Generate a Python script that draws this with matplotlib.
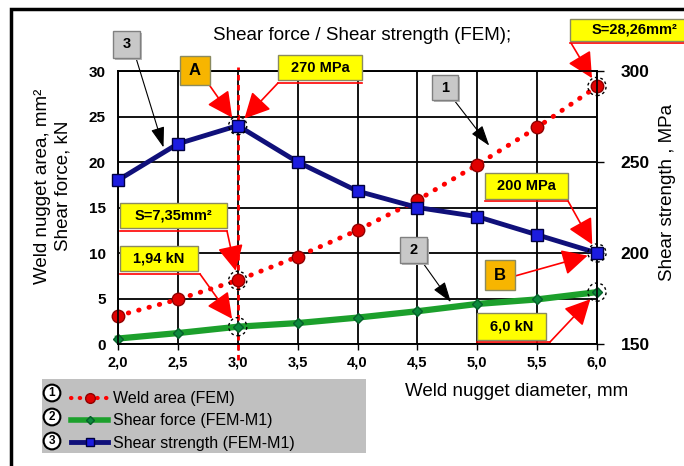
import numpy as np
import matplotlib
matplotlib.use('Agg')
import matplotlib.pyplot as plt
from matplotlib.patches import Rectangle
from matplotlib.lines import Line2D

plt.rcParams['font.family'] = ['Liberation Sans', 'DejaVu Sans']

# data
diameter = [2.0, 2.5, 3.0, 3.5, 4.0, 4.5, 5.0, 5.5, 6.0]
x_labels = ['2,0', '2,5', '3,0', '3,5', '4,0', '4,5', '5,0', '5,5', '6,0']
weld_area = [3.1, 4.9, 7.0, 9.6, 12.5, 15.8, 19.7, 23.8, 28.3]      # mm2
shear_force = [0.6, 1.2, 1.9, 2.3, 2.9, 3.6, 4.4, 4.9, 5.7]         # kN
shear_strength = [240, 260, 270, 250, 234, 225, 220, 210, 200]       # MPa
left_ticks = [0, 5, 10, 15, 20, 25, 30]
right_ticks = [150, 200, 250, 300]

W, H = 684, 466


def fx(px):
    return px / W


def fy(py):
    return 1 - py / H


fig = plt.figure(figsize=(W / 100, H / 100), dpi=100)
ax = fig.add_axes([fx(118), fy(344), (597 - 118) / W, (344 - 71) / H])
ax2 = ax.twinx()

ax.set_xlim(2.0, 6.0)
ax.set_ylim(0, 30)
ax2.set_ylim(150, 300)
ax.set_xticks(diameter)
ax.set_xticklabels(x_labels)
ax.set_yticks(left_ticks)
ax2.set_yticks(right_ticks)
ax.set_axisbelow(True)
ax.grid(True, color='black', lw=1.3)
ax.tick_params(axis='x', direction='out', length=4, width=1, pad=4, labelsize=10.5)
ax.tick_params(axis='y', length=0, pad=9, labelsize=11)
ax2.tick_params(axis='y', direction='out', length=5, width=1, pad=12, labelsize=12.5)
for lab in ax.get_xticklabels() + ax.get_yticklabels() + ax2.get_yticklabels():
    lab.set_fontweight('bold')
for a in (ax, ax2):
    for s in a.spines.values():
        s.set_linewidth(1.2)

# vertical marker line at d = 3.0
ax.axvline(diameter[2], ymin=-0.06, ymax=1.015, color='red', lw=2,
           ls=(0, (2, 1.6)), clip_on=False, zorder=1.5)

l_area, = ax.plot(diameter, weld_area, color='red', lw=3.5, ls=(0, (0.1, 2.1)),
                  dash_capstyle='round', marker='o', ms=9, mfc='#e00000',
                  mec='#900000', mew=1, clip_on=False, zorder=3)
l_force, = ax.plot(diameter, shear_force, color='#1ca02c', lw=4.5, marker='D',
                   ms=5, mfc='#0c8a3c', mec='#06602a', clip_on=False, zorder=3)
l_str, = ax2.plot(diameter, shear_strength, color='#10107a', lw=3.5, marker='s',
                  ms=9, mfc='#1c1ce0', mec='#000040', clip_on=False, zorder=3)

# dashed circles around highlighted points
ax.scatter([diameter[2], diameter[2], diameter[8], diameter[8]],
           [weld_area[2], shear_force[2], weld_area[8], shear_force[8]],
           s=170, facecolors='none', edgecolors='black', linewidths=1,
           linestyles=(0, (2, 2)), clip_on=False, zorder=6)
ax2.scatter([diameter[2], diameter[8]], [shear_strength[2], shear_strength[8]],
            s=170, facecolors='none', edgecolors='black', linewidths=1,
            linestyles=(0, (2, 2)), clip_on=False, zorder=6)


def box(text, x0, y0, x1, y1, fc, ec='#8a8a60', shadow=False, fs=10.5):
    if shadow:
        fig.patches.append(Rectangle((fx(x0 + 2), fy(y1 + 2)), (x1 - x0) / W,
                                     (y1 - y0) / H, transform=fig.transFigure,
                                     fc='#b8b8b8', ec='none', zorder=4))
    fig.patches.append(Rectangle((fx(x0), fy(y1)), (x1 - x0) / W, (y1 - y0) / H,
                                 transform=fig.transFigure, fc=fc, ec=ec,
                                 lw=1, zorder=5))
    fig.text(fx((x0 + x1) / 2), fy((y0 + y1) / 2), text, ha='center',
             va='center', fontsize=fs, fontweight='bold', zorder=6)


def underline(x0, x1, y):
    fig.add_artist(Line2D([fx(x0), fx(x1)], [fy(y), fy(y)], color='red', lw=1.2,
                          zorder=5))


def red_arrow(axis, pt, px, py):
    axis.annotate('', xy=pt, xycoords='data', xytext=(px, H - py),
                  textcoords='figure pixels', annotation_clip=False,
                  arrowprops=dict(arrowstyle='-|>,head_length=0.75,head_width=0.38',
                                  mutation_scale=21, color='red', lw=1.2,
                                  shrinkA=0, shrinkB=7), zorder=7)


def black_arrow(pt, px, py):
    ax.annotate('', xy=pt, xycoords='data', xytext=(px, H - py),
                textcoords='figure pixels', annotation_clip=False,
                arrowprops=dict(arrowstyle='-|>,head_length=0.9,head_width=0.3',
                                mutation_scale=14, color='black', lw=0.8,
                                shrinkA=0, shrinkB=0), zorder=7)


yellow = '#ffff00'
orange = '#f7b500'
grey = '#c8c8c8'

# callouts
box('270 MPa', 278, 55, 362, 80, yellow)
underline(278, 362, 83)
red_arrow(ax2, (diameter[2], shear_strength[2]), 278, 83)

box('A', 180, 56, 210, 85, orange, fs=12)
red_arrow(ax2, (diameter[2], shear_strength[2]), 210, 86)

box('S=28,26mm²', 570, 19, 700, 41, yellow)
underline(570, 684, 43)
red_arrow(ax, (diameter[8], weld_area[8]), 571, 43)

box('200 MPa', 485, 173, 568, 199, yellow)
underline(485, 568, 201)
red_arrow(ax2, (diameter[8], shear_strength[8]), 568, 201)

box('B', 485, 260, 515, 290, orange, fs=12)
red_arrow(ax2, (diameter[8], shear_strength[8]), 515, 276)

box('6,0 kN', 477, 313, 546, 340, yellow)
underline(477, 550, 342)
red_arrow(ax, (diameter[8], shear_force[8]), 550, 342)

box('S=7,35mm²', 120, 203, 227, 228, yellow)
underline(120, 227, 231)
red_arrow(ax, (diameter[2], weld_area[2]), 227, 231)

box('1,94 kN', 120, 246, 198, 271, yellow)
underline(120, 200, 274)
red_arrow(ax, (diameter[2], shear_force[2]), 200, 274)

box('3', 113, 31, 140, 58, grey, ec='#808080', shadow=True)
black_arrow((2.38, 21.6), 136, 58)
box('1', 432, 75, 458, 100, grey, ec='#808080', shadow=True)
black_arrow((5.1, 21.8), 454, 100)
box('2', 400, 237, 427, 263, grey, ec='#808080', shadow=True)
black_arrow((4.78, 4.6), 423, 263)

# texts
fig.text(fx(362), fy(35), 'Shear force / Shear strength (FEM);', ha='center',
         va='center', fontsize=13.5)
fig.text(fx(405), fy(392), 'Weld nugget diameter, mm', ha='left', va='center',
         fontsize=13.5)
fig.text(fx(53), fy(186), 'Weld nugget area, mm²\nShear force, kN', rotation=90,
         ha='center', va='center', fontsize=13.5, linespacing=1.3,
         multialignment='center')
fig.text(fx(668), fy(192), 'Shear strength , MPa', rotation=90, ha='center',
         va='center', fontsize=13.5)

# legend on grey panel
fig.patches.append(Rectangle((fx(42), fy(453)), (366 - 42) / W, (453 - 379) / H,
                             transform=fig.transFigure, fc='#c0c0c0', ec='none',
                             zorder=1))
h_area = Line2D([], [], color='red', lw=3, ls=(0, (0.1, 2.0)),
                dash_capstyle='round', marker='o', ms=7, mfc='#e00000', mec='#900000')
h_force = Line2D([], [], color='#1ca02c', lw=4, marker='D', ms=4,
                 mfc='#0c8a3c', mec='#06602a')
h_str = Line2D([], [], color='#10107a', lw=3.5, marker='s', ms=6,
               mfc='#1c1ce0', mec='#000040')
leg = fig.legend([h_area, h_force, h_str],
                 ['Weld area (FEM)', 'Shear force (FEM-M1)', 'Shear strength (FEM-M1)'],
                 loc='upper left', bbox_to_anchor=(fx(60), fy(380)), frameon=False,
                 fontsize=11.5, handlelength=2.3, handletextpad=0.3,
                 labelspacing=0.45, borderpad=0.2, numpoints=1)
for i, yy in enumerate([393, 417, 441]):
    fig.text(fx(52), fy(yy), str(i + 1), ha='center', va='center', fontsize=8.5,
             fontweight='bold', zorder=8,
             bbox=dict(boxstyle='circle,pad=0.2', fc='white', ec='black', lw=1.5))

# outer frame
fig.patches.append(Rectangle((fx(11), fy(H + 10)), (W + 10) / W, (H + 1) / H,
                             transform=fig.transFigure, fc='none', ec='black',
                             lw=2.5, zorder=10))

fig.savefig('out.png', dpi=100)
